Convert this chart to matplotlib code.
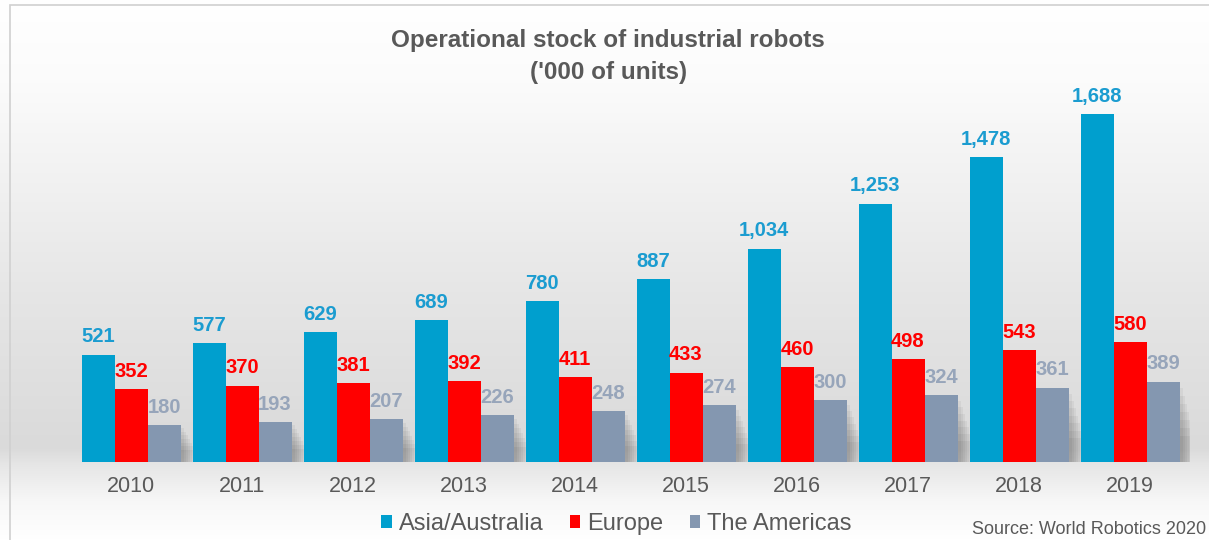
import numpy as np
import matplotlib
matplotlib.use("Agg")
import matplotlib.pyplot as plt
from matplotlib.patches import Rectangle

years = ['2010', '2011', '2012', '2013', '2014', '2015', '2016', '2017', '2018', '2019']
asia = [521, 577, 629, 689, 780, 887, 1034, 1253, 1478, 1688]
europe = [352, 370, 381, 392, 411, 433, 460, 498, 543, 580]
americas = [180, 193, 207, 226, 248, 274, 300, 324, 361, 389]

series_names = ['Asia/Australia', 'Europe', 'The Americas']
bar_colors = ['#009FCE', '#FF0000', '#8497B0']
label_colors = ['#1B9CD0', '#FF0000', '#97A5BA']
text_grey = '#595959'

plt.rcParams['font.family'] = ['Liberation Sans', 'DejaVu Sans']

W, H = 1209, 540
fig = plt.figure(figsize=(W / 100, H / 100), dpi=100)

# background gradient (white at top, grey near the baseline, white again below)
bg = fig.add_axes([0, 0, 1, 1], zorder=-10)
ys = np.linspace(0, 1, 540)  # 0 = top
stops_y = [0.0, 0.15, 0.55, 0.83, 0.86, 0.93, 1.0]
stops_v = [1.0, 0.985, 0.90, 0.855, 0.90, 0.97, 1.0]
col = np.interp(ys, stops_y, stops_v)
img = np.repeat(col[:, None], 10, axis=1)
bg.imshow(np.dstack([img, img, img]), aspect='auto', extent=[0, 1, 0, 1], interpolation='bilinear')
bg.set_xlim(0, 1)
bg.set_ylim(0, 1)
bg.axis('off')
# thin frame
bg.add_patch(Rectangle((10 / W, -0.1), 1.2, (H - 5) / H + 0.1, fill=False, ec='#D0D0D0', lw=1.2))

ax = fig.add_axes([80 / W, (H - 462) / H, 1110 / W, 391.8 / H])
ax.patch.set_alpha(0)

x = np.arange(len(years))
w = 0.297
offsets = [-w, 0, w]
data = [asia, europe, americas]

# soft shadow to the right of each group
for i in range(len(years)):
    right = x[i] + 1.5 * w
    for k in range(7):
        ax.bar(right, americas[i] * (0.92 - k * 0.1), width=0.03 + k * 0.018, align='edge',
               color='black', alpha=0.045, lw=0, zorder=1)

for vals, off, c, lc, name in zip(data, offsets, bar_colors, label_colors, series_names):
    bars = ax.bar(x + off, vals, width=w, color=c, label=name, zorder=3, lw=0)
    for b, v in zip(bars, vals):
        ax.annotate(f'{v:,}', (b.get_x() + b.get_width() / 2, v), xytext=(0, 6),
                    textcoords='offset points', ha='center', va='bottom',
                    fontsize=14.5, fontweight='bold', color=lc, zorder=4)

ax.set_xlim(-0.46, 9.54)
ax.set_ylim(0, 1900)
ax.set_yticks([])
ax.set_xticks(x)
ax.set_xticklabels(years, fontsize=15.5, color=text_grey)
ax.tick_params(axis='x', length=0, pad=10)
for s in ax.spines.values():
    s.set_visible(False)

fig.text(0.503, 1 - 41 / H, "Operational stock of industrial robots", ha='center', va='center',
         fontsize=17.5, fontweight='bold', color=text_grey)
fig.text(0.503, 1 - 72 / H, "('000 of units)", ha='center', va='center',
         fontsize=17.5, fontweight='bold', color=text_grey)

leg = fig.legend(loc='center', bbox_to_anchor=(0.51, 1 - 524 / H), ncol=3, frameon=False,
                 fontsize=17, handlelength=0.45, handleheight=0.45, handletextpad=0.3,
                 columnspacing=1.1)
for t in leg.get_texts():
    t.set_color(text_grey)

fig.text(1 - 3 / W, 1 - 530 / H, "Source: World Robotics 2020", ha='right', va='center',
         fontsize=13, color=text_grey)

fig.savefig('out.png', dpi=100)
